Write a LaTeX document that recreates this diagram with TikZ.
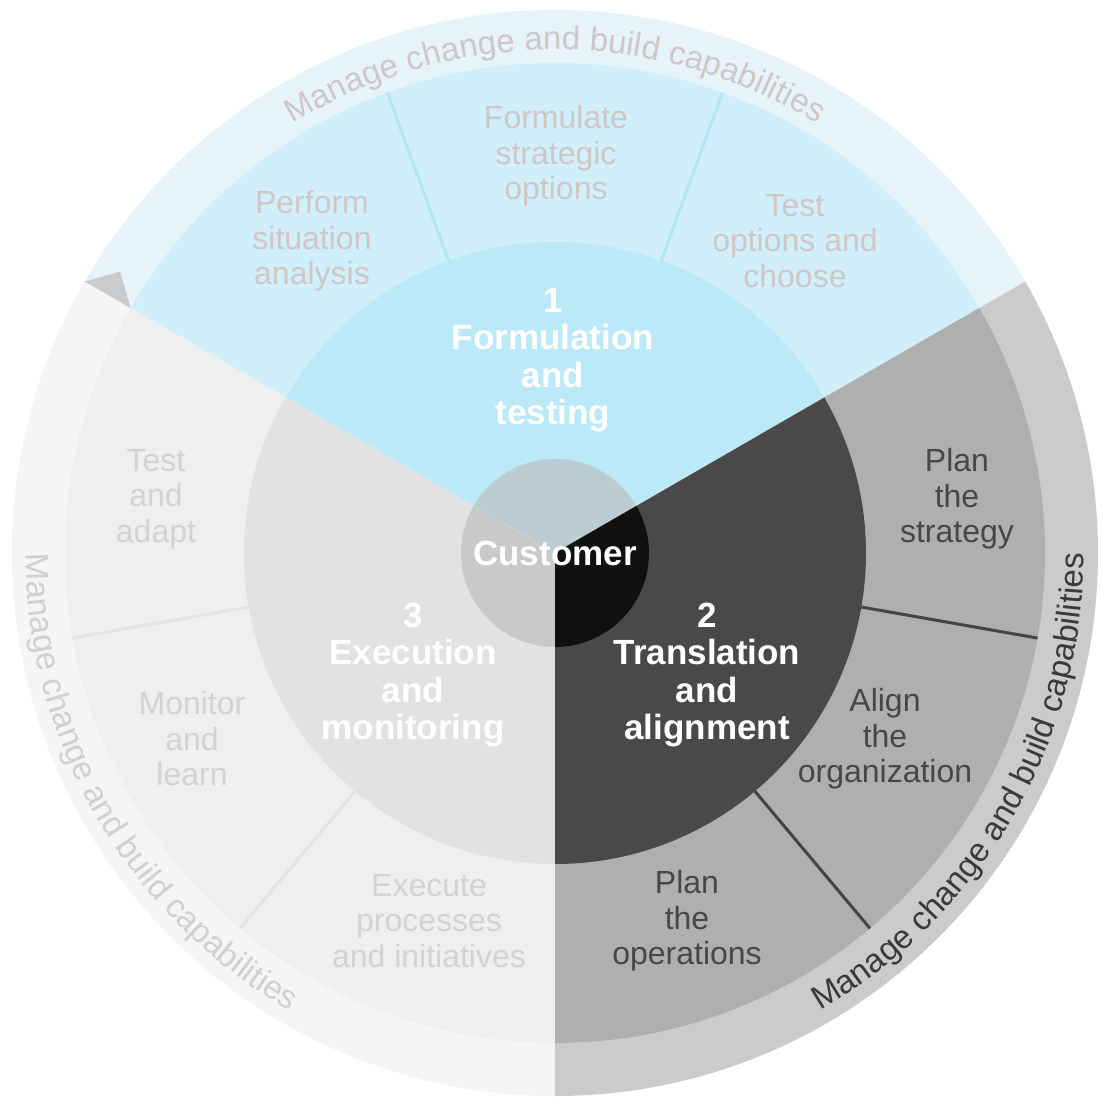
\documentclass[tikz,border=0pt]{standalone}
\usepackage{fontspec}
\setmainfont{Liberation Sans}
\usetikzlibrary{decorations.text}
\definecolor{blueRing}{HTML}{E6F4FA}
\definecolor{blueMid}{HTML}{D0EFFA}
\definecolor{blueCore}{HTML}{BBE9F8}
\definecolor{blueCust}{HTML}{BBCDD3}
\definecolor{blueLine}{HTML}{B7E4F5}
\definecolor{blueText}{HTML}{CFC6C6}
\definecolor{darkRing}{HTML}{CBCBCB}
\definecolor{darkMid}{HTML}{AFAFAF}
\definecolor{darkCore}{HTML}{4A4849}
\definecolor{darkCust}{HTML}{111010}
\definecolor{darkLine}{HTML}{444444}
\definecolor{darkText}{HTML}{474747}
\definecolor{greyRing}{HTML}{F5F5F5}
\definecolor{greyMid}{HTML}{EFEFEF}
\definecolor{greyCore}{HTML}{E2E2E2}
\definecolor{greyCust}{HTML}{C9C9C9}
\definecolor{greyLine}{HTML}{E3E3E3}
\definecolor{greyText}{HTML}{D3D3D3}
\definecolor{ringGreyText}{HTML}{D0D0D0}
\definecolor{ringDarkText}{HTML}{3A3A3A}
\definecolor{tipGrey}{HTML}{CACBCD}
\tikzset{
    every node/.append style={align=center, inner sep=0pt},
    tasktext/.style={font=\fontsize{32}{35.5}\selectfont},
    phasetext/.style={font=\fontsize{35}{37.5}\selectfont\bfseries, text=white},
    divider/.style={line width=3pt},
    ringtext/.style={decorate, decoration={text along path, text align=center,
        text={|\fontsize{33}{36}\selectfont\color{#1}|Manage change and build capabilities}}}
}

\begin{document}
\begin{tikzpicture}
\useasboundingbox[fill=white] (-555pt,-556pt) rectangle (554pt,553pt);

% the three sectors, from the outer ring in to the customer
\foreach \a/\b/\ring/\mid/\core/\cust in {30/150/blueRing/blueMid/blueCore/blueCust,
    -90/30/darkRing/darkMid/darkCore/darkCust, 150/270/greyRing/greyMid/greyCore/greyCust} {
  \fill[\ring] (0,0) -- (\a:543pt) arc[start angle=\a, end angle=\b, radius=543pt] -- cycle;
  \fill[\mid] (0,0) -- (\a:490pt) arc[start angle=\a, end angle=\b, radius=490pt] -- cycle;
  \fill[\core] (0,0) -- (\a:311pt) arc[start angle=\a, end angle=\b, radius=311pt] -- cycle;
  \fill[\cust] (0,0) -- (\a:94pt) arc[start angle=\a, end angle=\b, radius=94pt] -- cycle;
}
\fill[tipGrey] (150:543pt) -- (147.1:518pt) -- (150:490pt) -- cycle;

\foreach \t in {70,110} \draw[divider, blueLine] (\t:311pt) -- (\t:490pt);
\foreach \t in {-10,-50} \draw[divider, darkLine] (\t:311pt) -- (\t:490pt);
\foreach \t in {190,230} \draw[divider, greyLine] (\t:311pt) -- (\t:490pt);

\path[ringtext=blueText] (150:503pt) arc[start angle=150, end angle=30, radius=503pt];
\path[ringtext=ringGreyText] (150:529pt) arc[start angle=150, end angle=270, radius=529pt];
\path[ringtext=ringDarkText] (-90:529pt) arc[start angle=-90, end angle=30, radius=529pt];

\node[tasktext, text=blueText] (perform) at (-243pt,312pt) {Perform\\situation\\analysis};
\node[tasktext, text=blueText] (formulate) at (1pt,397pt) {Formulate\\strategic\\options};
\node[tasktext, text=blueText] (testopt) at (240pt,312pt) {Test\\options and\\choose};
\node[phasetext] (formulation) at (-2pt,193pt) {1\\Formulation\\and\\testing};

\node[tasktext, text=darkText] (planstrat) at (402pt,54pt) {Plan\\the\\strategy};
\node[tasktext, text=darkText] (align) at (330pt,-186pt) {Align\\the\\organization};
\node[tasktext, text=darkText] (planops) at (132pt,-368pt) {Plan\\the\\operations};
\node[phasetext] (translation) at (152pt,-122pt) {2\\Translation\\and\\alignment};

\node[tasktext, text=greyText] (testadapt) at (-399pt,54pt) {Test\\and\\adapt};
\node[tasktext, text=greyText] (monitor) at (-363pt,-186pt) {Monitor\\and\\learn};
\node[tasktext, text=greyText] (execute) at (-126pt,-368pt) {Execute\\processes\\and initiatives};
\node[phasetext] (execution) at (-142pt,-122pt) {3\\Execution\\and\\monitoring};

\node[phasetext] (customer) at (0,0) {Customer};
\end{tikzpicture}
\end{document}
